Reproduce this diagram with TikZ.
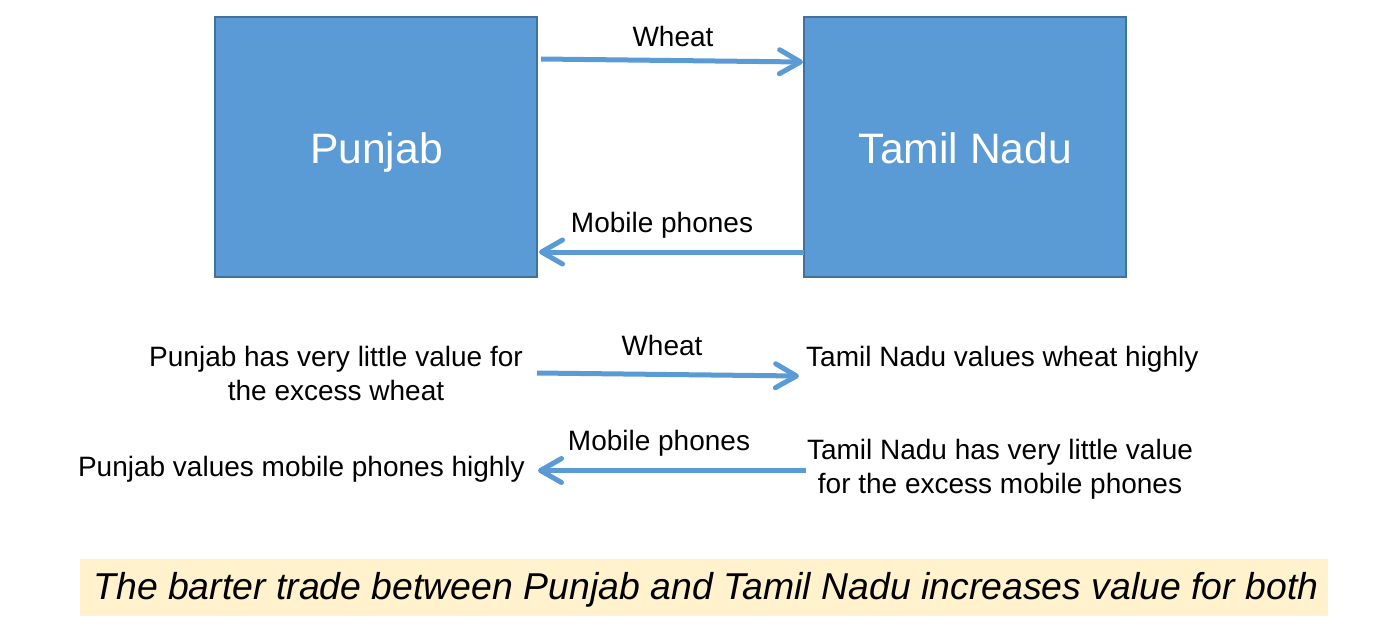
\documentclass[tikz,border=0pt]{standalone}
\usepackage{fontspec}
\setmainfont{Liberation Sans}
\usetikzlibrary{arrows.meta}
\definecolor{boxblue}{HTML}{5B9BD5}
\definecolor{boxedge}{HTML}{41719C}
\definecolor{banner}{HTML}{FFF2CC}
\tikzset{
  statebox/.style={draw=boxedge, line width=1.5pt, fill=boxblue, minimum width=322pt, minimum height=260pt, inner sep=0pt},
  boxtext/.style={inner sep=0pt, anchor=base, text=white, font=\fontsize{42.6}{50}\selectfont},
  flow/.style={draw=boxblue, line width=5pt, -{Straight Barb[round, length=21pt, width=24pt, line width=0pt 1]}},
  lbl/.style={inner sep=0pt, anchor=base, font=\fontsize{28}{34}\selectfont},
  note/.style={inner sep=0pt, font=\fontsize{28}{33.5}\selectfont, align=center}
}
\begin{document}
\begin{tikzpicture}[x=1pt,y=-1pt]
\useasboundingbox (0,0) rectangle (1378,641);
% boxes
\node[statebox] (pun) at (376,147) {};
\node[statebox] (tn) at (965,147) {};
\node[boxtext] (punt) at (376.5,163) {Punjab};
\node[boxtext] (tnt) at (965.5,163) {Tamil Nadu};
% top arrows
\coordinate (a1s) at (541,59);
\coordinate (a1e) at (803,62);
\coordinate (a2s) at (804,252);
\coordinate (a2e) at (539,252);
\draw[flow] (a1s) -- (a1e);
\draw[flow] (a2s) -- (a2e);
\node[lbl] (w1) at (673,46) {Wheat};
\node[lbl] (m1) at (662,232) {Mobile phones};
% lower section
\node[note, anchor=base] (pv1) at (336,400) {Punjab has very little value for\\the excess wheat};
\node[note, anchor=base west] (tv1) at (806,366) {Tamil Nadu values wheat highly};
\node[note, anchor=base east] (pv2) at (525,476.7) {Punjab values mobile phones highly};
\node[note, anchor=base] (tv2) at (1000,493.3) {Tamil Nadu has very little value\\for the excess mobile phones};
\coordinate (b1s) at (537,373);
\coordinate (b1e) at (799,376);
\coordinate (b2s) at (806,470.5);
\coordinate (b2e) at (538,470.5);
\draw[flow] (b1s) -- (b1e);
\draw[flow] (b2s) -- (b2e);
\node[lbl] (w2) at (662,355.7) {Wheat};
\node[lbl] (m2) at (659,450.7) {Mobile phones};
% banner
\node[fill=banner, minimum width=1248pt, minimum height=57pt, inner sep=0pt] (ban) at (704,587.5) {};
\node[inner sep=0pt, anchor=base, font=\fontsize{37.4}{44}\selectfont\itshape] (bant) at (706,599) {The barter trade between Punjab and Tamil Nadu increases value for both};
\end{tikzpicture}
\end{document}
